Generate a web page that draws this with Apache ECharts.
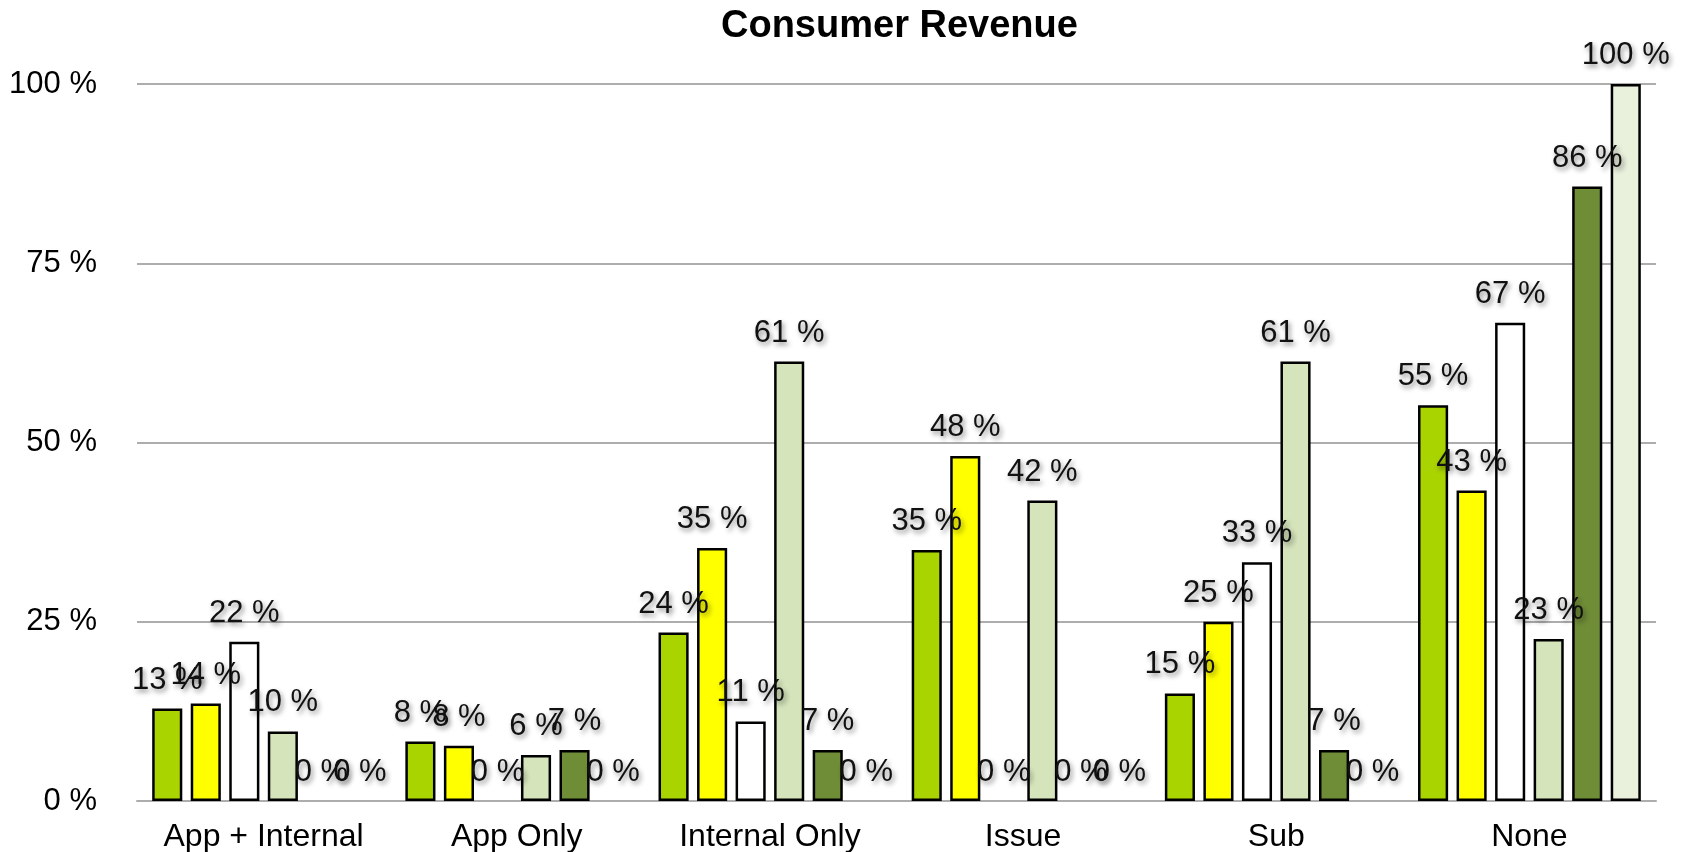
<!DOCTYPE html>
<html>
<head>
<meta charset="utf-8">
<script src="https://cdn.jsdelivr.net/npm/echarts@6/dist/echarts.min.js"></script>
<style>
  * { margin: 0; padding: 0; }
  html, body { background: #fff; }
  #chart { width: 1689px; height: 852px; }
</style>
</head>
<body>
<div id="chart"></div>
<script>
const categories = ["App + Internal", "App Only", "Internal Only", "Issue", "Sub", "None"];

// one array per series, values in percent
const seriesGreen = [12.9, 8.3, 23.5, 35.0, 15.0, 55.2];
const seriesYellow = [13.6, 7.7, 35.3, 48.1, 25.0, 43.3];
const seriesWhite = [22.2, 0, 11.1, 0, 33.3, 66.7];
const seriesLight = [9.7, 6.4, 61.3, 41.9, 61.3, 22.6];
const seriesOlive = [0, 7.1, 7.1, 0, 7.1, 85.7];
const seriesPale = [0, 0, 0, 0, 0, 100];

const yTicks = [0, 25, 50, 75, 100];

const font = "'Liberation Sans', Arial, sans-serif";

const seriesDefs = [
  { name: "S1", data: seriesGreen, color: "#AAD400" },
  { name: "S2", data: seriesYellow, color: "#FFFF00" },
  { name: "S3", data: seriesWhite, color: "#FFFFFF" },
  { name: "S4", data: seriesLight, color: "#D5E4BB" },
  { name: "S5", data: seriesOlive, color: "#6F8C37" },
  { name: "S6", data: seriesPale, color: "#E9F0DC" },
];

const dom = document.getElementById("chart");
const myChart = echarts.init(dom, null, { renderer: "canvas" });

const option = {
  animation: false,
  backgroundColor: "#fff",
  title: {
    text: "Consumer Revenue",
    left: 716,
    top: 3,
    textStyle: {
      fontFamily: font,
      fontSize: 38,
      fontWeight: "bold",
      color: "#000",
    },
  },
  grid: {
    left: 137,
    right: 33,
    top: 84,
    bottom: 51,
    outerBoundsMode: "none",
  },
  xAxis: {
    type: "category",
    data: categories,
    axisTick: { show: false },
    axisLine: { lineStyle: { color: "#ADADAD", width: 2 } },
    axisLabel: {
      interval: 0,
      fontFamily: font,
      fontSize: 32,
      color: "#000",
      margin: 20,
    },
  },
  yAxis: {
    type: "value",
    min: yTicks[0],
    max: yTicks[yTicks.length - 1],
    interval: 25,
    axisLine: { show: false },
    axisTick: { show: false },
    splitLine: { lineStyle: { color: "#ADADAD", width: 2 } },
    axisLabel: {
      fontFamily: font,
      fontSize: 31,
      color: "#000",
      margin: 40,
      formatter: "{value} %",
    },
  },
  series: seriesDefs.map((s) => ({
    name: s.name,
    type: "bar",
    barGap: "28%",
    barCategoryGap: "12%",
    data: s.data.map((v) => ({
      value: v,
      itemStyle: v === 0 ? { borderWidth: 0 } : undefined,
    })),
    itemStyle: {
      color: s.color,
      borderColor: "#000",
      borderWidth: 2.5,
    },
    label: {
      show: true,
      position: "top",
      distance: 13,
      fontFamily: font,
      fontSize: 31,
      color: "#111",
      textShadowColor: "rgba(0,0,0,0.45)",
      textShadowBlur: 5,
      textShadowOffsetX: 2,
      textShadowOffsetY: 3,
      formatter: (p) => Math.round(p.value) + " %",
    },
  })),
};

myChart.setOption(option);
window.addEventListener("resize", myChart.resize);
</script>
</body>
</html>
